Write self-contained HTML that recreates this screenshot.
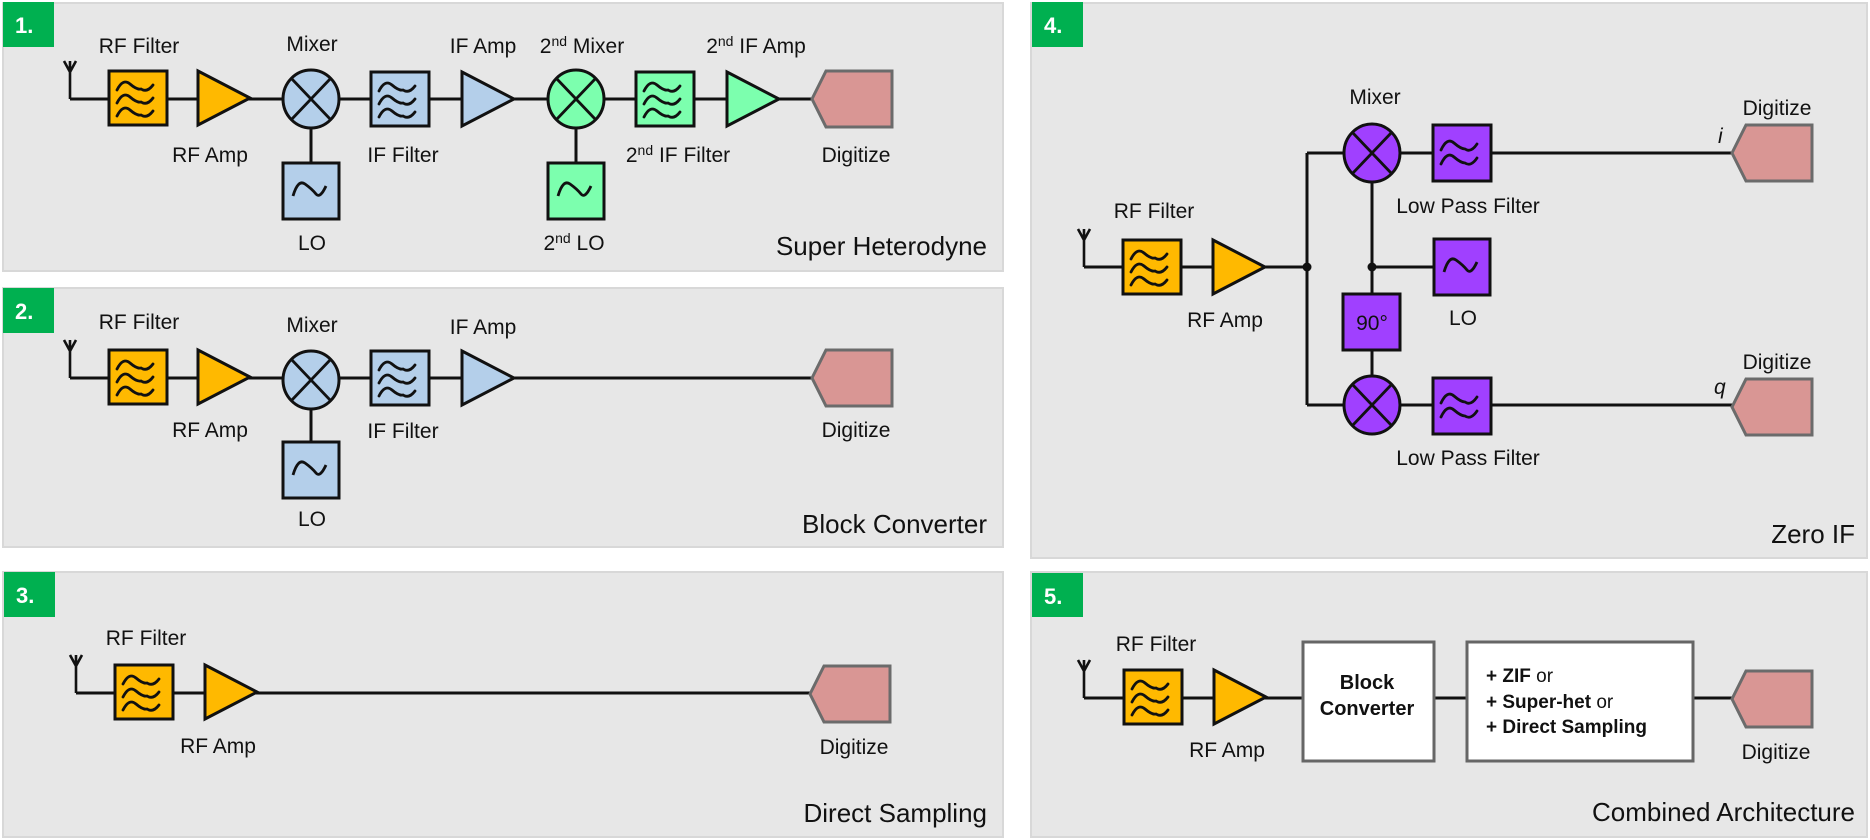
<!DOCTYPE html>
<html><head><meta charset="utf-8"><style>
html,body{margin:0;padding:0;background:#fff;}
svg{display:block;}
text{font-family:"Liberation Sans",sans-serif;font-size:21px;fill:#111;}
.c{text-anchor:middle;}
.r{text-anchor:end;font-size:26px;}
.b{font-weight:bold;}
</style></head><body>
<svg width="1870" height="840" viewBox="0 0 1870 840" xmlns="http://www.w3.org/2000/svg">
<defs>
<g id="filt">
<rect x="-29" y="-27" width="58" height="54" stroke="#111" stroke-width="3"/>
<g fill="none" stroke="#111" stroke-width="2.8" stroke-linecap="round">
<path d="M-21,-8 q6,-12 13,-6 t11,5 q6,4 12,-4"/>
<path d="M-21,5 q6,-12 13,-6 t11,5 q6,4 12,-4"/>
<path d="M-21,18 q6,-12 13,-6 t11,5 q6,4 12,-4"/>
</g>
</g>
<g id="lpf">
<rect x="-29" y="-28" width="58" height="56" stroke="#111" stroke-width="3"/>
<g fill="none" stroke="#111" stroke-width="2.8" stroke-linecap="round">
<path d="M-21,-3 q6,-13 13,-7 t11,6 q6,4 12,-5"/>
<path d="M-21,11 q6,-13 13,-7 t11,6 q6,4 12,-5"/>
</g>
</g>
<g id="amp"><polygon points="0,-27 52,0 0,27" stroke="#111" stroke-width="3"/></g>
<g id="mix">
<ellipse rx="28" ry="29" stroke="#111" stroke-width="3"/>
<path d="M-20,-21 L20,21 M20,-21 L-20,21" stroke="#111" stroke-width="2.8"/>
</g>
<g id="osc">
<rect x="-28" y="-28" width="56" height="56" stroke="#111" stroke-width="3"/>
<path d="M-18,5 q5,-17 12,-12 t11,10 t10,-8" fill="none" stroke="#111" stroke-width="2.8"/>
</g>
<g id="dig"><polygon points="0,0 14,-28 80,-28 80,28 14,28" fill="#D99694" stroke="#6b6b6b" stroke-width="3"/></g>
<g id="ant" fill="none" stroke="#111" stroke-width="2.6"><path d="M0,0 V-38 M-6,-38 L0,-27 L6,-38"/></g>
</defs>

<g fill="#E7E7E7" stroke="#d8d8d8" stroke-width="2">
<rect x="3" y="3" width="1000" height="268"/>
<rect x="3" y="288" width="1000" height="259"/>
<rect x="3" y="572" width="1000" height="265"/>
<rect x="1031" y="3" width="836" height="555"/>
<rect x="1031" y="572" width="836" height="265"/>
</g>
<g fill="#00B050">
<rect x="3" y="2" width="51" height="45"/>
<rect x="3" y="288" width="51" height="45"/>
<rect x="4" y="572" width="51" height="45"/>
<rect x="1032" y="2" width="51" height="45"/>
<rect x="1032" y="573" width="51" height="44"/>
</g>
<g style="font-size:22px">
<text x="15" y="33" style="fill:#fff;font-weight:bold;font-size:22px">1.</text>
<text x="15" y="319" style="fill:#fff;font-weight:bold;font-size:22px">2.</text>
<text x="16" y="603" style="fill:#fff;font-weight:bold;font-size:22px">3.</text>
<text x="1044" y="33" style="fill:#fff;font-weight:bold;font-size:22px">4.</text>
<text x="1044" y="604" style="fill:#fff;font-weight:bold;font-size:22px">5.</text>
</g>

<!-- Panel 1 -->
<path d="M70,99 H812 M311,128 V163 M576,128 V163" stroke="#111" stroke-width="3" fill="none"/>
<use href="#ant" x="70" y="99"/>
<use href="#filt" x="138" y="98" fill="#FFB900"/>
<use href="#amp" x="198" y="98" fill="#FFB900"/>
<use href="#mix" x="311" y="99" fill="#B4CFEA"/>
<use href="#osc" x="311" y="191" fill="#B4CFEA"/>
<use href="#filt" x="400" y="99" fill="#B4CFEA"/>
<use href="#amp" x="462" y="99" fill="#B4CFEA"/>
<use href="#mix" x="576" y="99" fill="#7CFFAE"/>
<use href="#osc" x="576" y="191" fill="#7CFFAE"/>
<use href="#filt" x="665" y="99" fill="#7CFFAE"/>
<use href="#amp" x="727" y="99" fill="#7CFFAE"/>
<use href="#dig" x="812" y="99"/>
<text class="c" x="139" y="53">RF Filter</text>
<text class="c" x="312" y="51">Mixer</text>
<text class="c" x="483" y="53">IF Amp</text>
<text class="c" x="582" y="53">2<tspan dy="-7" style="font-size:14px">nd</tspan><tspan dy="7"> Mixer</tspan></text>
<text class="c" x="756" y="53">2<tspan dy="-7" style="font-size:14px">nd</tspan><tspan dy="7"> IF Amp</tspan></text>
<text class="c" x="210" y="162">RF Amp</text>
<text class="c" x="403" y="162">IF Filter</text>
<text class="c" x="678" y="162">2<tspan dy="-7" style="font-size:14px">nd</tspan><tspan dy="7"> IF Filter</tspan></text>
<text class="c" x="856" y="162">Digitize</text>
<text class="c" x="312" y="250">LO</text>
<text class="c" x="574" y="250">2<tspan dy="-7" style="font-size:14px">nd</tspan><tspan dy="7"> LO</tspan></text>
<text class="r" x="987" y="255">Super Heterodyne</text>

<!-- Panel 2 -->
<path d="M70,378 H812 M311,407 V442" stroke="#111" stroke-width="3" fill="none"/>
<use href="#ant" x="70" y="378"/>
<use href="#filt" x="138" y="377" fill="#FFB900"/>
<use href="#amp" x="198" y="377" fill="#FFB900"/>
<use href="#mix" x="311" y="380" fill="#B4CFEA"/>
<use href="#osc" x="311" y="470" fill="#B4CFEA"/>
<use href="#filt" x="400" y="378" fill="#B4CFEA"/>
<use href="#amp" x="462" y="378" fill="#B4CFEA"/>
<use href="#dig" x="812" y="378"/>
<text class="c" x="139" y="329">RF Filter</text>
<text class="c" x="312" y="332">Mixer</text>
<text class="c" x="483" y="334">IF Amp</text>
<text class="c" x="210" y="437">RF Amp</text>
<text class="c" x="403" y="438">IF Filter</text>
<text class="c" x="856" y="437">Digitize</text>
<text class="c" x="312" y="526">LO</text>
<text class="r" x="987" y="533">Block Converter</text>

<!-- Panel 3 -->
<path d="M76,693 H810" stroke="#111" stroke-width="3" fill="none"/>
<use href="#ant" x="76" y="693"/>
<use href="#filt" x="144" y="692" fill="#FFB900"/>
<use href="#amp" x="205" y="692" fill="#FFB900"/>
<use href="#dig" x="810" y="694"/>
<text class="c" x="146" y="645">RF Filter</text>
<text class="c" x="218" y="753">RF Amp</text>
<text class="c" x="854" y="754">Digitize</text>
<text class="r" x="987" y="822">Direct Sampling</text>

<!-- Panel 4 -->
<path d="M1084,267 H1307 M1307,153 V405 M1307,153 H1732 M1307,405 H1732 M1372,153 V405 M1372,267 H1433" stroke="#111" stroke-width="3" fill="none"/>
<circle cx="1307" cy="267" r="4.5" fill="#111"/>
<circle cx="1372" cy="267" r="4.5" fill="#111"/>
<use href="#ant" x="1084" y="267"/>
<use href="#filt" x="1152" y="267" fill="#FFB900"/>
<use href="#amp" x="1213" y="267" fill="#FFB900"/>
<use href="#mix" x="1372" y="153" fill="#A040FF"/>
<use href="#lpf" x="1462" y="153" fill="#A040FF"/>
<use href="#osc" x="1462" y="267" fill="#A040FF"/>
<rect x="1343" y="294" width="57" height="56" fill="#A040FF" stroke="#111" stroke-width="3"/>
<text class="c" x="1372" y="330">90°</text>
<use href="#mix" x="1372" y="405" fill="#A040FF"/>
<use href="#lpf" x="1462" y="406" fill="#A040FF"/>
<use href="#dig" x="1732" y="153"/>
<use href="#dig" x="1732" y="407"/>
<text class="c" x="1375" y="104">Mixer</text>
<text class="c" x="1777" y="115">Digitize</text>
<text x="1718" y="143" style="font-style:italic">i</text>
<text class="c" x="1468" y="213">Low Pass Filter</text>
<text class="c" x="1154" y="218">RF Filter</text>
<text class="c" x="1225" y="327">RF Amp</text>
<text class="c" x="1463" y="325">LO</text>
<text class="c" x="1777" y="369">Digitize</text>
<text x="1714" y="394" style="font-style:italic">q</text>
<text class="c" x="1468" y="465">Low Pass Filter</text>
<text class="r" x="1855" y="543">Zero IF</text>

<!-- Panel 5 -->
<path d="M1084,698 H1732" stroke="#111" stroke-width="3" fill="none"/>
<use href="#ant" x="1084" y="698"/>
<use href="#filt" x="1153" y="697" fill="#FFB900"/>
<use href="#amp" x="1214" y="697" fill="#FFB900"/>
<rect x="1303" y="642" width="131" height="119" fill="#fff" stroke="#666" stroke-width="3"/>
<rect x="1467" y="642" width="226" height="119" fill="#fff" stroke="#666" stroke-width="3"/>
<use href="#dig" x="1732" y="699"/>
<text class="c b" x="1367" y="689" style="font-size:20px;font-weight:bold">Block</text>
<text class="c b" x="1367" y="715" style="font-size:20px;font-weight:bold">Converter</text>
<text x="1486" y="682" style="font-size:19px"><tspan font-weight="bold">+ ZIF</tspan> or</text>
<text x="1486" y="708" style="font-size:19px"><tspan font-weight="bold">+ Super-het</tspan> or</text>
<text x="1486" y="733" style="font-size:19px"><tspan font-weight="bold">+ Direct Sampling</tspan></text>
<text class="c" x="1156" y="651">RF Filter</text>
<text class="c" x="1227" y="757">RF Amp</text>
<text class="c" x="1776" y="759">Digitize</text>
<text class="r" x="1855" y="821">Combined Architecture</text>
</svg>
</body></html>
